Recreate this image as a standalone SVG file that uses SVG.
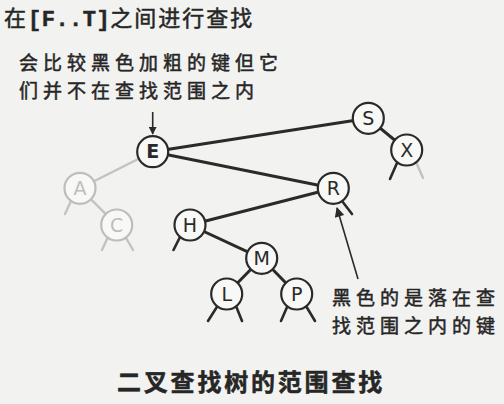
<svg xmlns="http://www.w3.org/2000/svg" width="504" height="404" viewBox="0 0 504 404">
  <defs>
    <style>
      .cjk { font-family: "Noto Sans CJK SC", "Noto Sans", sans-serif; fill: #262626; stroke: #262626; stroke-width: 0.5; }
      .mono { font-family: "Liberation Mono", "DejaVu Sans Mono", monospace; font-weight: bold; }
      .node circle { fill: #f8f8f6; stroke: #2a2a2a; stroke-width: 2.2; }
      .node text { font-family: "DejaVu Sans", "Liberation Sans", sans-serif; font-size: 19px; fill: #2a2a2a; text-anchor: middle; }
      .node.dim circle { stroke: #bdbdbd; }
      .node.dim text { fill: #bdbdbd; }
      .edge { stroke: #2a2a2a; stroke-width: 3; stroke-linecap: round; fill: none; }
      .stub { stroke: #2a2a2a; stroke-width: 2.6; stroke-linecap: round; fill: none; }
      .dim-line { stroke: #c2c2c2; stroke-width: 2.4; stroke-linecap: round; fill: none; }
      .pointer { stroke: #2a2a2a; stroke-width: 1.6; fill: none; }
    </style>
    <marker id="arrowSmall" viewBox="0 0 10 10" refX="9" refY="5" markerWidth="5" markerHeight="5" orient="auto" markerUnits="strokeWidth">
      <path d="M0,0 L10,5 L0,10 z" fill="#2a2a2a"/>
    </marker>
    <marker id="arrowBig" viewBox="0 0 10 10" refX="9" refY="5" markerWidth="8" markerHeight="6" orient="auto" markerUnits="strokeWidth">
      <path d="M0,0 L10,5 L0,10 z" fill="#2a2a2a"/>
    </marker>
  </defs>

  <rect width="504" height="404" fill="#f2f2f0"/>

  <!-- headings and notes -->
  <text class="cjk" x="4" y="26" font-size="22" letter-spacing="2">在<tspan class="mono" letter-spacing="0.5">[F..T]</tspan>之间进行查找</text>
  <text class="cjk" font-size="19" letter-spacing="5"><tspan x="19" y="70">会比较黑色加粗的键但它</tspan><tspan x="19" y="98">们并不在查找范围之内</tspan></text>
  <text class="cjk" font-size="19" letter-spacing="5"><tspan x="332" y="305">黑色的是落在查</tspan><tspan x="332" y="333">找范围之内的键</tspan></text>
  <text class="cjk" x="117" y="391" font-size="24" font-weight="bold" letter-spacing="2.8" stroke-width="0">二叉查找树的范围查找</text>

  <!-- connectors -->
  <g id="connectors">
    <!-- examined, outside range -->
    <line class="dim-line" x1="152.7" y1="151.7" x2="80" y2="188.3"/>
    <line class="dim-line" x1="80" y1="188.3" x2="116.7" y2="225"/>
    <line class="dim-line" x1="71" y1="201" x2="65" y2="214"/>
    <line class="dim-line" x1="108" y1="237" x2="102" y2="250"/>
    <line class="dim-line" x1="125.5" y1="237" x2="133" y2="250"/>
    <line class="dim-line" x1="416" y1="162" x2="423" y2="178"/>

    <!-- search path -->
    <line class="edge" x1="152.7" y1="151.7" x2="368.3" y2="118.3"/>
    <line class="edge" x1="152.7" y1="151.7" x2="333.3" y2="188.3"/>
    <line class="edge" x1="333.3" y1="188.3" x2="190" y2="225"/>
    <line class="edge" x1="190" y1="225" x2="261.7" y2="258.3"/>
    <line class="edge" x1="261.7" y1="258.3" x2="226.7" y2="294"/>
    <line class="edge" x1="261.7" y1="258.3" x2="296.7" y2="294"/>
    <line class="edge" x1="368.3" y1="118.3" x2="406.7" y2="150"/>

    <!-- null links -->
    <line class="stub" x1="180" y1="237" x2="173.5" y2="250"/>
    <line class="stub" x1="342" y1="201" x2="352" y2="214"/>
    <line class="stub" x1="397" y1="163" x2="390" y2="179"/>
    <line class="stub" x1="217.5" y1="306" x2="208" y2="321"/>
    <line class="stub" x1="236" y1="306" x2="242" y2="321"/>
    <line class="stub" x1="287.5" y1="306" x2="281" y2="321"/>
    <line class="stub" x1="306" y1="306" x2="315" y2="321"/>

    <!-- callout pointers -->
    <line class="pointer" x1="152.7" y1="112" x2="152.7" y2="134" marker-end="url(#arrowSmall)"/>
    <line class="pointer" x1="358" y1="279" x2="337" y2="208" marker-end="url(#arrowBig)"/>
  </g>

  <!-- nodes -->
  <g id="node-A" class="node dim"><circle cx="80" cy="188.3" r="15.5"/><text x="80" y="195">A</text></g>
  <g id="node-C" class="node dim"><circle cx="116.7" cy="225" r="15.5"/><text x="116.7" y="231.7">C</text></g>
  <g id="node-E" class="node"><circle cx="152.7" cy="151.7" r="15.5"/><text x="152.7" y="158.4" font-weight="bold">E</text></g>
  <g id="node-S" class="node"><circle cx="368.3" cy="118.3" r="15.5"/><text x="368.3" y="125">S</text></g>
  <g id="node-X" class="node"><circle cx="406.7" cy="150" r="15.5"/><text x="406.7" y="156.7">X</text></g>
  <g id="node-R" class="node"><circle cx="333.3" cy="188.3" r="15.5"/><text x="333.3" y="195">R</text></g>
  <g id="node-H" class="node"><circle cx="190" cy="225" r="15.5"/><text x="190" y="231.7">H</text></g>
  <g id="node-M" class="node"><circle cx="261.7" cy="258.3" r="15.5"/><text x="261.7" y="265">M</text></g>
  <g id="node-L" class="node"><circle cx="226.7" cy="294" r="15.5"/><text x="226.7" y="300.7">L</text></g>
  <g id="node-P" class="node"><circle cx="296.7" cy="294" r="15.5"/><text x="296.7" y="300.7">P</text></g>
</svg>
